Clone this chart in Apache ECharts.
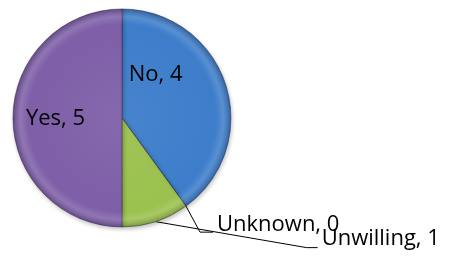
<!DOCTYPE html>
<html>
<head>
<meta charset="utf-8">
<script src="https://cdn.jsdelivr.net/npm/echarts@6/dist/echarts.min.js"></script>
<style>
  html, body { margin: 0; padding: 0; background: #fff; }
  #chartPie { width: 450px; height: 261px; }
</style>
</head>
<body>
<div id="chartPie"></div>
<script>
// answers, in the order the slices go round (clockwise from 12 o'clock)
var answers = ["No", "Unknown", "Unwilling", "Yes"];
var counts = [4, 0, 1, 5];
var colors = ["#3d7dca", "#9bc14e", "#9bc14e", "#7e5fa8"];

window.onload = function () {
  InitPie();
};

function InitPie() {
  var myChart = echarts.init(document.getElementById("chartPie"));

  var total = 0;
  for (var i = 0; i < counts.length; i++) total += counts[i];

  var data = [];
  for (var i = 0; i < answers.length; i++) {
    var big = counts[i] / total >= 0.3; // big slices carry their label inside
    data.push({
      name: answers[i],
      value: counts[i],
      itemStyle: { color: colors[i] },
      label: { position: big ? "inside" : "outside" },
      labelLine: { show: !big },
    });
  }

  var option = {
    animation: false,
    series: [
      {
        type: "pie",
        center: ["27.1%", "45.2%"],
        radius: 109,
        startAngle: 90,
        clockwise: true,
        minAngle: 0,
        avoidLabelOverlap: false,
        itemStyle: {
          borderColor: "rgba(40,30,60,0.55)",
          borderWidth: 0.8,
          shadowBlur: 4,
          shadowOffsetX: 1,
          shadowOffsetY: 2,
          shadowColor: "rgba(0,0,0,0.25)",
        },
        label: {
          show: true,
          formatter: "{b}, {c}",
          fontFamily: "Open Sans",
          fontSize: 22,
          lineHeight: 22,
          color: "#000",
        },
        labelLine: {
          show: true,
          lineStyle: { color: "#000", width: 1 },
        },
        // Excel style placement of the labels
        labelLayout: function (params) {
          var idx = params.dataIndex;
          if (idx === 0) return { dx: -21, dy: -25 };
          if (idx === 3) return { dx: -9, dy: 1 };
          var p0 = params.labelLinePoints[0];
          var p1, p2;
          if (idx === 1) {
            p1 = [p0[0] + 14, p0[1] + 26];
            p2 = [p1[0] + 13, p1[1]];
            return {
              x: p2[0] + 4,
              y: p2[1] - 7,
              align: "left",
              verticalAlign: "middle",
              labelLinePoints: [p0, p1, p2],
            };
          }
          p1 = [p0[0] + 151, p0[1] + 26];
          p2 = [p1[0] + 11, p1[1]];
          return {
            x: p2[0] + 4,
            y: p2[1] - 9,
            align: "left",
            verticalAlign: "middle",
            labelLinePoints: [p0, p1, p2],
          };
        },
        data: data,
      },
      {
        // bevel shading on top of the pie
        type: "pie",
        silent: true,
        center: ["27.1%", "45.2%"],
        radius: 109,
        label: { show: false },
        labelLine: { show: false },
        itemStyle: {
          color: {
            type: "radial",
            x: 0.5,
            y: 0.5,
            r: 0.5,
            colorStops: [
              { offset: 0, color: "rgba(255,255,255,0.06)" },
              { offset: 0.86, color: "rgba(255,255,255,0)" },
              { offset: 0.93, color: "rgba(255,255,255,0.14)" },
              { offset: 1, color: "rgba(0,0,0,0.2)" },
            ],
          },
        },
        data: [{ name: "total", value: total }],
      },
    ],
  };
  myChart.setOption(option);
}
</script>
</body>
</html>
